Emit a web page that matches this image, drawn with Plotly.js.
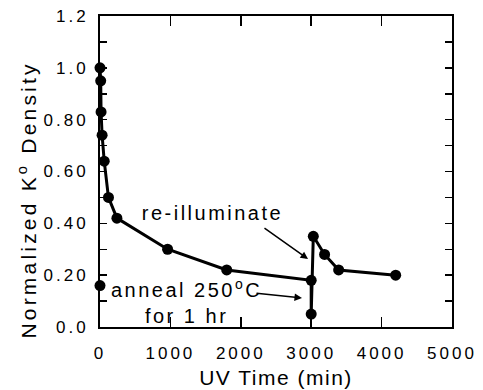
<!DOCTYPE html>
<html>
<head>
<meta charset="utf-8">
<script src="https://cdn.plot.ly/plotly-3.0.1.min.js"></script>
<style>
  html, body { margin: 0; padding: 0; background: #fff; }
  #chart { width: 483px; height: 390px; }
  /* wide, typewriter-like spacing of the printed figure */
  .xtick text, .ytick text { letter-spacing: 3px; }
  .g-xtitle text { letter-spacing: 1.5px; }
  .annotation text { letter-spacing: 2.5px; }
  .annotation[data-index="0"] text { letter-spacing: 3.2px; }
</style>
</head>
<body>
<div id="chart"></div>
<script>
// UV exposure time (min) and normalized K0 density
const uvTime = [0, 10, 15, 30, 60, 120, 240, 960, 1800, 3000, 3000, 3030, 3190, 3390, 4200];
const density = [1.0, 0.95, 0.83, 0.74, 0.64, 0.50, 0.42, 0.30, 0.22, 0.18, 0.05, 0.35, 0.28, 0.22, 0.20];

// isolated measurement at t = 0
const startTime = [0];
const startDensity = [0.16];

// axis ticks
const xTickVals = [0, 1000, 2000, 3000, 4000, 5000];
const xTickText = ['0', '1000', '2000', '3000', '4000', '5000'];
const yTickVals = [0, 0.2, 0.4, 0.6, 0.8, 1.0, 1.2];
const yTickText = ['0.0', '0.20', '0.40', '0.60', '0.80', '1.0', '1.2'];

const font = 'Liberation Sans, Arial, Helvetica, sans-serif';

const traces = [
  {
    x: uvTime, y: density, type: 'scatter', mode: 'lines+markers',
    name: 'K0 density',
    line: { color: '#000', width: 3 },
    marker: { color: '#000', size: 11 },
    cliponaxis: false
  },
  {
    x: startTime, y: startDensity, type: 'scatter', mode: 'markers',
    name: 'start',
    marker: { color: '#000', size: 11 },
    cliponaxis: false
  }
];

const layout = {
  width: 483, height: 390,
  margin: { l: 100, r: 31, t: 16, b: 63 },
  paper_bgcolor: '#fff', plot_bgcolor: '#fff',
  showlegend: false,
  font: { family: font, color: '#000', size: 17 },
  xaxis: {
    range: [0, 5000],
    tickvals: xTickVals, ticktext: xTickText,
    ticks: 'inside', ticklen: 10, tickwidth: 1.5, tickcolor: '#000',
    showline: true, linecolor: '#000', linewidth: 2, mirror: 'ticks',
    showgrid: false, zeroline: false,
    ticklabelstandoff: 10,
    tickfont: { family: font, size: 17, color: '#000' },
    title: { text: 'UV Time (min)', font: { family: font, size: 21, color: '#000' }, standoff: 8 }
  },
  yaxis: {
    range: [0, 1.2],
    tickvals: yTickVals, ticktext: yTickText,
    ticks: 'inside', ticklen: 7, tickwidth: 1.5, tickcolor: '#000',
    minor: { dtick: 0.1, tick0: 0, ticks: 'inside', ticklen: 7, tickwidth: 1.5, tickcolor: '#000', showgrid: false },
    showline: true, linecolor: '#000', linewidth: 2, mirror: 'ticks',
    showgrid: false, zeroline: false,
    ticklabelstandoff: 6,
    tickfont: { family: font, size: 17, color: '#000' }
  },
  annotations: [
    {
      text: 'Normalized K<sup>o</sup> Density', textangle: -90,
      xref: 'paper', yref: 'paper', x: -0.206, y: 0.41,
      xanchor: 'center', yanchor: 'middle', showarrow: false,
      font: { family: font, size: 21, color: '#000' }
    },
    {
      text: 're-illuminate',
      xref: 'x', yref: 'y', x: 1591, y: 0.44,
      xanchor: 'center', yanchor: 'middle', showarrow: false,
      font: { family: font, size: 20, color: '#000' }
    },
    {
      text: 'anneal 250<sup>o</sup>C<br>for 1 hr',
      xref: 'x', yref: 'y', x: 1230, y: 0.098,
      xanchor: 'center', yanchor: 'middle', align: 'center', showarrow: false,
      font: { family: font, size: 20, color: '#000' }
    },
    {
      text: '', xref: 'x', yref: 'y', axref: 'x', ayref: 'y',
      x: 2955, y: 0.262, ax: 2315, ay: 0.386,
      showarrow: true, arrowhead: 2, arrowsize: 1, arrowwidth: 1.5, arrowcolor: '#000'
    },
    {
      text: '', xref: 'x', yref: 'y', axref: 'x', ayref: 'y',
      x: 2869, y: 0.112, ax: 2202, ay: 0.131,
      showarrow: true, arrowhead: 2, arrowsize: 1, arrowwidth: 1.5, arrowcolor: '#000'
    }
  ]
};

Plotly.newPlot('chart', traces, layout, { displayModeBar: false, staticPlot: true });
</script>
</body>
</html>
